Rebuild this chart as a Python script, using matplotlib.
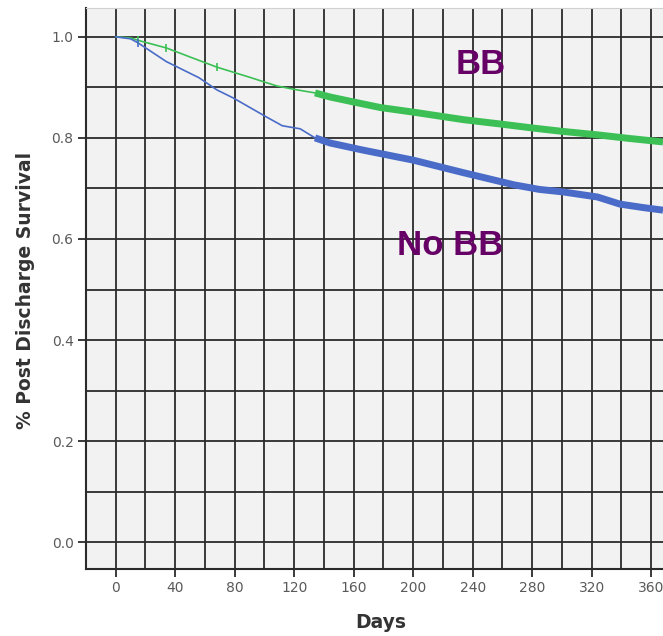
import matplotlib
matplotlib.use("Agg")
import matplotlib.pyplot as plt
import numpy as np

# Kaplan-Meier survival estimates (days since discharge)
bb_days_early = [0, 10, 15, 34, 50, 68, 90, 108, 120, 134]
bb_surv_early = [1.0, 0.998, 0.993, 0.978, 0.96, 0.94, 0.92, 0.903, 0.896, 0.889]
bb_days_late = [134, 144, 160, 178, 200, 234, 260, 279, 300, 324, 345, 368]
bb_surv_late = [0.889, 0.881, 0.871, 0.86, 0.851, 0.836, 0.827, 0.82, 0.813, 0.806, 0.799, 0.792]

nobb_days_early = [0, 10, 15, 34, 56, 68, 79, 101, 112, 124, 134]
nobb_surv_early = [1.0, 0.996, 0.988, 0.951, 0.919, 0.895, 0.879, 0.842, 0.824, 0.818, 0.80]
nobb_days_late = [134, 144, 166, 200, 234, 268, 285, 301, 324, 339, 355, 368]
nobb_surv_late = [0.80, 0.79, 0.776, 0.756, 0.731, 0.707, 0.698, 0.693, 0.683, 0.669, 0.662, 0.657]

# censoring ticks on the early part of each curve
bb_cens_days = [15, 34, 68]
bb_cens_surv = [0.993, 0.978, 0.94]
nobb_cens_days = [15]
nobb_cens_surv = [0.988]

x_ticks = [0, 40, 80, 120, 160, 200, 240, 280, 320, 360]
y_ticks = [0.0, 0.2, 0.4, 0.6, 0.8, 1.0]

green = "#3cc055"
blue = "#4a6cc8"
purple = "#660066"

fig = plt.figure(figsize=(6.63, 6.36), dpi=100)
ax = fig.add_axes([86 / 663, 67 / 636, 1 - 86 / 663, 561 / 636])
ax.set_facecolor("#f2f2f2")

ax.set_xlim(-20, 368)
ax.set_ylim(-0.053, 1.057)

# grid: every 20 days and every 0.1 of survival
for gx in np.arange(0, 368, 20):
    ax.axvline(gx, color="#2b2b2b", lw=1.3, zorder=1)
for gy in np.arange(0, 1.01, 0.1):
    ax.axhline(gy, color="#2b2b2b", lw=1.3, zorder=1)

ax.plot(bb_days_early, bb_surv_early, color=green, lw=1.2, zorder=3)
ax.plot(bb_days_late, bb_surv_late, color=green, lw=5, solid_capstyle="butt", zorder=3)
ax.plot(nobb_days_early, nobb_surv_early, color=blue, lw=1.2, zorder=3)
ax.plot(nobb_days_late, nobb_surv_late, color=blue, lw=5, solid_capstyle="butt", zorder=3)
ax.plot(bb_cens_days, bb_cens_surv, ls="none", marker="|", ms=6, mew=1.2, color=green, zorder=4)
ax.plot(nobb_cens_days, nobb_cens_surv, ls="none", marker="|", ms=6, mew=1.2, color=blue, zorder=4)

ax.text(245.6, 0.9455, "BB", color=purple, fontsize=25, fontweight="bold",
        family="Liberation Sans", ha="center", va="center")
ax.text(225, 0.588, "No BB", color=purple, fontsize=25, fontweight="bold",
        family="Liberation Sans", ha="center", va="center")

ax.set_xticks(x_ticks)
ax.set_yticks(y_ticks)
ax.set_yticklabels([f"{v:.1f}" for v in y_ticks])
ax.tick_params(direction="out", length=6, width=1.3, color="#2b2b2b",
               labelsize=10, labelcolor="#5a5a5a", pad=3)

for side in ("left", "bottom"):
    ax.spines[side].set_color("#2b2b2b")
    ax.spines[side].set_linewidth(1.5)
ax.spines["top"].set_color("#d0d0d0")
ax.spines["right"].set_visible(False)

ax.set_xlabel("Days", fontsize=13.5, fontweight="bold", color="#333333", va="center")
ax.set_ylabel("% Post Discharge Survival", fontsize=13.5, fontweight="bold", color="#333333", va="center")
ax.xaxis.set_label_coords(295 / 577, -54 / 561)
ax.yaxis.set_label_coords(-61 / 577, 0.497)

fig.savefig("out.png", dpi=100)
